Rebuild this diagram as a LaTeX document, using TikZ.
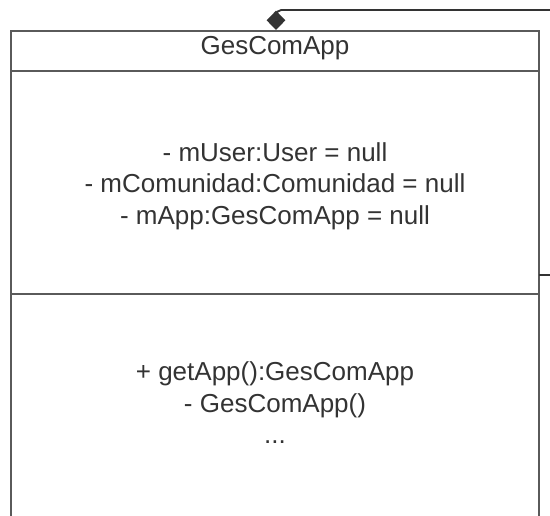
\documentclass[tikz,border=0pt]{standalone}
\usepackage{fontspec}
\setmainfont{Liberation Sans}
\usetikzlibrary{arrows.meta}
\definecolor{linegray}{RGB}{90,90,90}
\definecolor{textgray}{RGB}{51,51,51}

\tikzset{
  umltext/.style={font=\fontsize{19.5}{23.6}\selectfont, text=textgray, inner sep=0.75pt, align=center},
  umlline/.style={draw=linegray, line width=0.9pt},
}

\begin{document}
\begin{tikzpicture}[x=0.75pt,y=0.75pt,yscale=-1,xscale=1]
    \useasboundingbox (0,0) rectangle (550,516);

    %Shape: Class box (open at the bottom)
    \coordinate (topleft) at (11,31);
    \coordinate (topright) at (539,31);
    \draw [umlline] (11,520) -- (topleft) -- (topright) -- (539,520) ;
    \draw [umlline] (11,71) -- (539,71) ;
    \draw [umlline] (11,294) -- (539,294) ;

    % Text Node
    \node [umltext] (title) at (275,48) {GesComApp};
    % Text Node
    \node [umltext] (attrs) at (275,186) {- mUser:User = null\\- mComunidad:Comunidad = null\\- mApp:GesComApp = null};
    % Text Node
    \node [umltext] (ops) at (275,403) {+ getApp():GesComApp\\- GesComApp()\\...};

    %Straight Lines: aggregation
    \coordinate (diamond) at (276,30);
    \coordinate (farend) at (551,10);
    \draw [color=textgray, line width=1.4pt, rounded corners=4, {Diamond[length=14.5pt,width=14pt]}-] (diamond) |- (farend) ;
    %Straight Lines: stub on the right
    \coordinate (rightside) at (539,275);
    \coordinate (stubend) at (551,275);
    \draw [color=textgray, line width=1.4pt] (rightside) -- (stubend) ;
\end{tikzpicture}
\end{document}
